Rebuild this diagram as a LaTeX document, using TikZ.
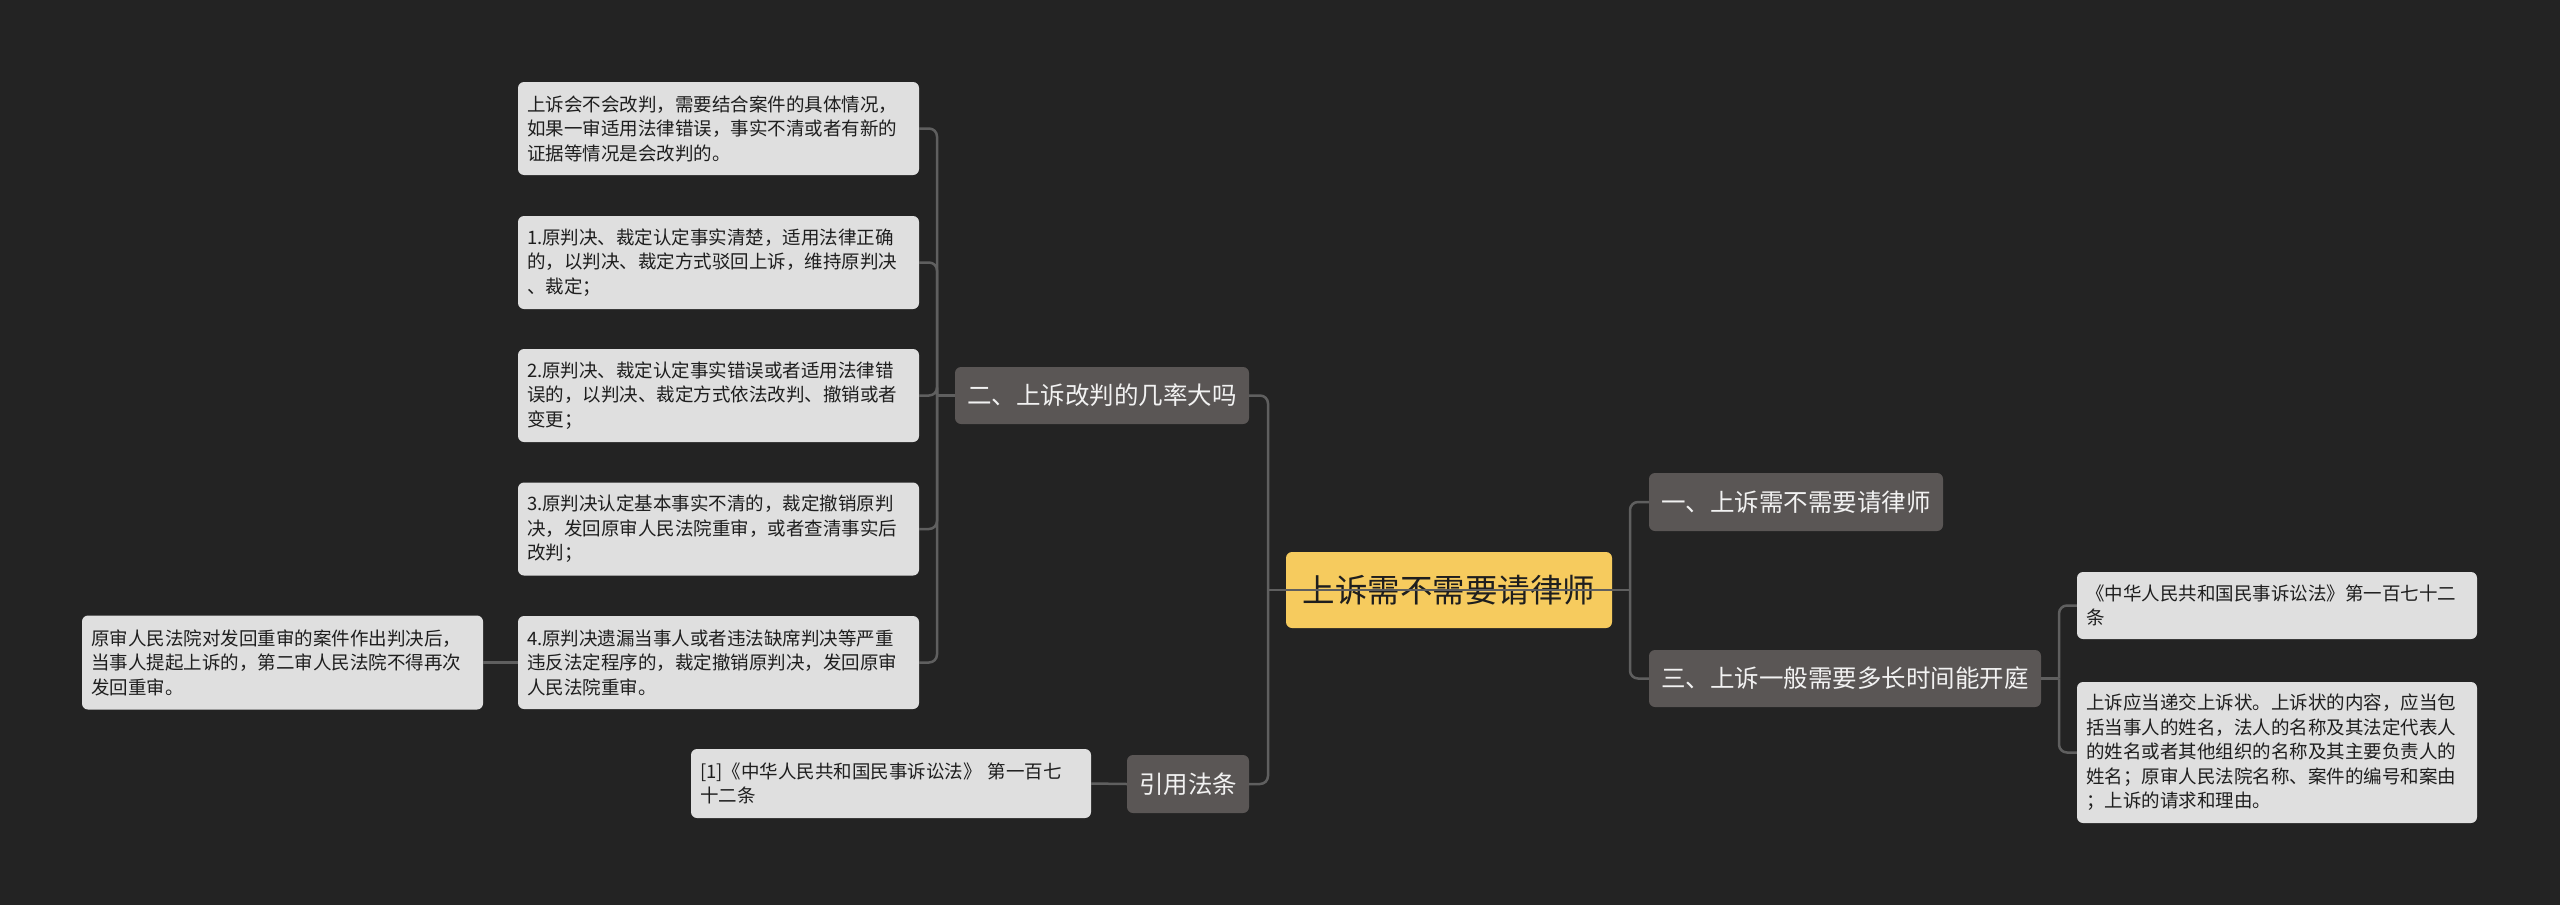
\documentclass[tikz,border=0pt]{standalone}
\usepackage{fontspec}
\setmainfont{Noto Sans CJK SC}
\definecolor{bgcol}{HTML}{232323}
\definecolor{lightbox}{HTML}{DFDFDF}
\definecolor{darkbox}{HTML}{5A5655}
\definecolor{rootcol}{HTML}{F6CB5E}
\definecolor{linecol}{HTML}{5F5F5F}
\definecolor{darktext}{HTML}{1E1E1E}
\definecolor{lighttext}{HTML}{F2F2F2}
\begin{document}
\begin{tikzpicture}[x=1pt,y=-1pt,
  basebox/.style={rounded corners=6pt, inner ysep=0pt, anchor=center},
  lbox/.style={basebox, fill=lightbox, text=darktext, font=\fontsize{18.5}{24.5}\selectfont, align=left, inner xsep=9pt, text width=383pt},
  dbox/.style={basebox, fill=darkbox, text=lighttext, font=\fontsize{24.5}{30}\selectfont, inner xsep=0pt},
  rootbox/.style={basebox, fill=rootcol, text=darktext, font=\fontsize{32.5}{38}\selectfont, inner xsep=0pt},
  conn/.style={draw=linecol, line width=2.5pt, rounded corners=8pt}]
\fill[bgcol] (0,0) rectangle (2560,905);
\useasboundingbox (0,0) rectangle (2560,905);

% root and main branches
\node[rootbox, minimum width=326pt, minimum height=76pt] (root) at (1449,590) {上诉需不需要请律师};
\node[dbox, minimum width=294pt, minimum height=57pt] (b2) at (1102,395.5) {二、上诉改判的几率大吗};
\node[dbox, minimum width=122pt, minimum height=58pt] (cite) at (1188,784) {引用法条};
\node[dbox, minimum width=294pt, minimum height=58pt] (b1) at (1796,502) {一、上诉需不需要请律师};
\node[dbox, minimum width=392pt, minimum height=57pt] (b3) at (1845,678.5) {三、上诉一般需要多长时间能开庭};

% left leaves
\node[lbox, minimum height=93pt] (a0) at (718.5,128.5) {上诉会不会改判，需要结合案件的具体情况，\\如果一审适用法律错误，事实不清或者有新的\\证据等情况是会改判的。};
\node[lbox, minimum height=93pt] (a1) at (718.5,262.5) {1.原判决、裁定认定事实清楚，适用法律正确\\的，以判决、裁定方式驳回上诉，维持原判决\\、裁定；};
\node[lbox, minimum height=93pt] (a2) at (718.5,395.5) {2.原判决、裁定认定事实错误或者适用法律错\\误的，以判决、裁定方式依法改判、撤销或者\\变更；};
\node[lbox, minimum height=93pt] (a3) at (718.5,529) {3.原判决认定基本事实不清的，裁定撤销原判\\决，发回原审人民法院重审，或者查清事实后\\改判；};
\node[lbox, minimum height=93pt] (a4) at (718.5,662.5) {4.原判决遗漏当事人或者违法缺席判决等严重\\违反法定程序的，裁定撤销原判决，发回原审\\人民法院重审。};
\node[lbox, minimum height=94pt] (a5) at (282.5,662.5) {原审人民法院对发回重审的案件作出判决后，\\当事人提起上诉的，第二审人民法院不得再次\\发回重审。};
\node[lbox, text width=382pt, minimum height=69pt] (c1) at (891,783.5) {[1]《中华人民共和国民事诉讼法》 第一百七\\十二条};

% right leaves
\node[lbox, text width=382pt, minimum height=67pt] (r1) at (2277,605.5) {《中华人民共和国民事诉讼法》第一百七十二\\条};
\node[lbox, text width=382pt, minimum height=141pt] (r2) at (2277,752.5) {上诉应当递交上诉状。上诉状的内容，应当包\\括当事人的姓名，法人的名称及其法定代表人\\的姓名或者其他组织的名称及其主要负责人的\\姓名；原审人民法院名称、案件的编号和案由\\；上诉的请求和理由。};

% junction coordinates
\coordinate (jL) at (1268,590);
\coordinate (jR) at (1630,590);
\coordinate (j2) at (937,395.5);
\coordinate (j3) at (2059,678.5);

% connectors
\draw[conn] (jL) -- (jR);
\draw[conn] (jL) |- (b2.east);
\draw[conn] (jL) |- (cite.east);
\draw[conn] (jR) |- (b1.west);
\draw[conn] (jR) |- (b3.west);
\draw[conn] (j2) -- (b2.west);
\draw[conn] (j2) |- (a0.east);
\draw[conn] (j2) |- (a1.east);
\draw[conn] (j2) |- (a2.east);
\draw[conn] (j2) |- (a3.east);
\draw[conn] (j2) |- (a4.east);
\draw[conn] (a5.east) -- (a4.west);
\draw[conn] (c1.east) -- (cite.west);
\draw[conn] (b3.east) -- (j3);
\draw[conn] (j3) |- (r1.west);
\draw[conn] (j3) |- (r2.west);
\end{tikzpicture}
\end{document}
